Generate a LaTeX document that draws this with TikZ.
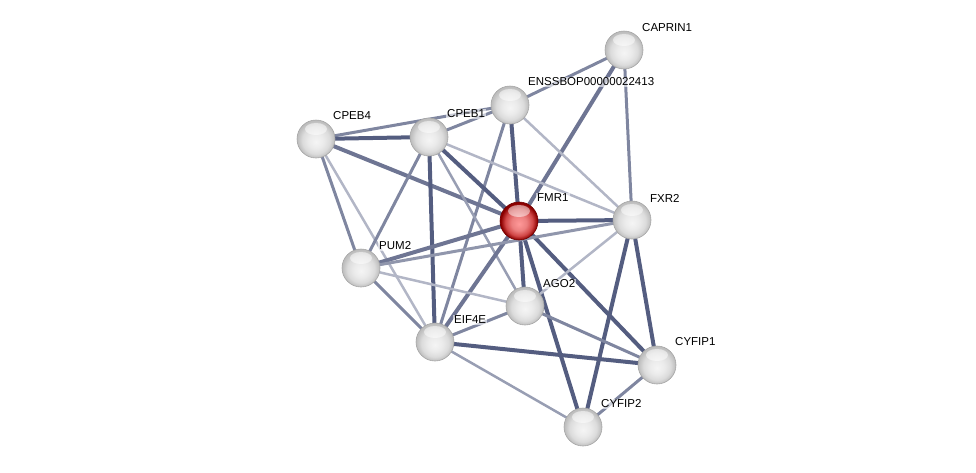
\documentclass[tikz,border=0pt]{standalone}
\usepackage{fontspec}
\setmainfont{Liberation Sans}
\usetikzlibrary{backgrounds}
\definecolor{edgecol}{RGB}{84,93,128}
\pgfdeclareradialshading{greyball}{\pgfpoint{0bp}{-4bp}}{%
  color(0bp)=(gray!8); color(10bp)=(gray!16); color(18bp)=(gray!28);
  color(24bp)=(gray!50); color(30bp)=(gray!60)}
\pgfdeclareradialshading{redball}{\pgfpoint{0bp}{-4bp}}{%
  color(0bp)=(red!40!white); color(10bp)=(red!50!white!85!gray); color(18bp)=(red!60!gray!90);
  color(24bp)=(red!55!black); color(30bp)=(red!50!black)}
\tikzset{
  prot/.style={circle, minimum size=38pt, inner sep=0pt, shading=greyball, draw=gray!70, line width=0.6pt,
    path picture={\fill[white, opacity=0.5] ([yshift=10pt]path picture bounding box.center) ellipse (11pt and 6pt);}},
  seed/.style={prot, shading=redball, draw=red!45!black},
  lbl/.style={anchor=west, inner sep=1pt, fill=white, fill opacity=0.6, text opacity=1, font=\fontsize{11.5}{13}\selectfont},
  strong/.style={line width=4pt, edgecol},
  mid/.style={line width=3pt, edgecol!75},
  weak/.style={line width=2.5pt, edgecol!45},
}
\begin{document}
\begin{tikzpicture}[x=1pt, y=-1pt]
  \useasboundingbox (0,0) rectangle (976,472);

  % proteins
  \node[prot] (caprin1) at (624,50) {};
  \node[prot] (enss)    at (510,105) {};
  \node[prot] (cpeb1)   at (429,137) {};
  \node[prot] (cpeb4)   at (316,139) {};
  \node[seed] (fmr1)    at (519,221) {};
  \node[prot] (fxr2)    at (632,220) {};
  \node[prot] (pum2)    at (361,268) {};
  \node[prot] (ago2)    at (525,306) {};
  \node[prot] (eif4e)   at (435,342) {};
  \node[prot] (cyfip1)  at (657,365) {};
  \node[prot] (cyfip2)  at (583,427) {};

  % labels
  \node[lbl] (caprin1-l) at ([shift={(17,-22)}]caprin1.center) {CAPRIN1};
  \node[lbl] (enss-l)    at ([shift={(17,-23)}]enss.center) {ENSSBOP00000022413};
  \node[lbl] (cpeb1-l)   at ([shift={(17,-23)}]cpeb1.center) {CPEB1};
  \node[lbl] (cpeb4-l)   at ([shift={(16,-23)}]cpeb4.center) {CPEB4};
  \node[lbl] (fmr1-l)    at ([shift={(17,-23)}]fmr1.center) {FMR1};
  \node[lbl] (fxr2-l)    at ([shift={(17,-22)}]fxr2.center) {FXR2};
  \node[lbl] (pum2-l)    at ([shift={(17,-22)}]pum2.center) {PUM2};
  \node[lbl] (ago2-l)    at ([shift={(17,-22)}]ago2.center) {AGO2};
  \node[lbl] (eif4e-l)   at ([shift={(18,-22)}]eif4e.center) {EIF4E};
  \node[lbl] (cyfip1-l)  at ([shift={(17,-23)}]cyfip1.center) {CYFIP1};
  \node[lbl] (cyfip2-l)  at ([shift={(17,-23)}]cyfip2.center) {CYFIP2};

  % interactions
  \begin{scope}[on background layer]
    \draw[mid]    (caprin1.center) -- (enss.center);
    \draw[strong, edgecol!85] (caprin1.center) -- (fmr1.center);
    \draw[mid]    (caprin1.center) -- (fxr2.center);
    \draw[mid]    (enss.center) -- (cpeb1.center);
    \draw[mid]    (enss.center) -- (cpeb4.center);
    \draw[strong] (enss.center) -- (fmr1.center);
    \draw[weak]   (enss.center) -- (fxr2.center);
    \draw[mid]    (enss.center) -- (eif4e.center);
    \draw[strong] (cpeb4.center) -- (cpeb1.center);
    \draw[strong, edgecol!85] (cpeb4.center) -- (fmr1.center);
    \draw[mid]    (cpeb4.center) -- (pum2.center);
    \draw[weak]   (cpeb4.center) -- (eif4e.center);
    \draw[mid]    (cpeb1.center) -- (pum2.center);
    \draw[strong] (cpeb1.center) -- (eif4e.center);
    \draw[strong] (cpeb1.center) -- (fmr1.center);
    \draw[weak]   (cpeb1.center) -- (fxr2.center);
    \draw[weak, edgecol!60] (cpeb1.center) -- (ago2.center);
    \draw[strong] (fmr1.center) -- (fxr2.center);
    \draw[strong, edgecol!85] (fmr1.center) -- (pum2.center);
    \draw[strong] (fmr1.center) -- (ago2.center);
    \draw[strong, edgecol!85] (fmr1.center) -- (eif4e.center);
    \draw[strong] (fmr1.center) -- (cyfip1.center);
    \draw[strong] (fmr1.center) -- (cyfip2.center);
    \draw[mid, edgecol!65] (fxr2.center) -- (pum2.center);
    \draw[weak]   (fxr2.center) -- (ago2.center);
    \draw[strong] (fxr2.center) -- (cyfip1.center);
    \draw[strong] (fxr2.center) -- (cyfip2.center);
    \draw[mid]    (pum2.center) -- (eif4e.center);
    \draw[weak]   (pum2.center) -- (ago2.center);
    \draw[mid]    (eif4e.center) -- (ago2.center);
    \draw[strong] (eif4e.center) -- (cyfip1.center);
    \draw[weak, edgecol!60] (eif4e.center) -- (cyfip2.center);
    \draw[mid]    (ago2.center) -- (cyfip1.center);
    \draw[mid]    (cyfip1.center) -- (cyfip2.center);
  \end{scope}
\end{tikzpicture}
\end{document}
